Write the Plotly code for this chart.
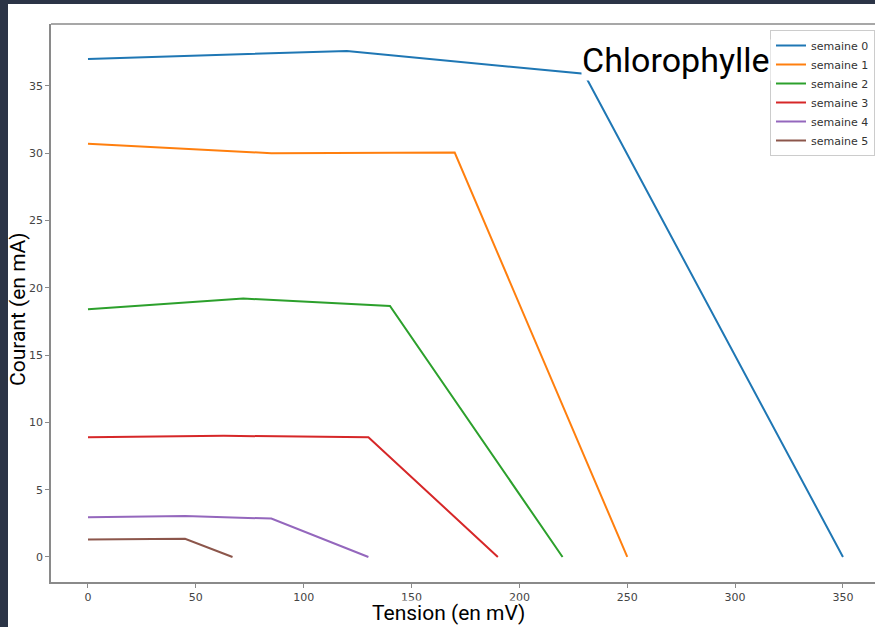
import plotly.graph_objects as go

# Data
series_names = ["semaine 0", "semaine 1", "semaine 2", "semaine 3", "semaine 4", "semaine 5"]
s0_x = [0, 120, 230, 350]
s0_y = [37.0, 37.6, 35.9, 0]
s1_x = [0, 85, 170, 250]
s1_y = [30.7, 30.0, 30.05, 0]
s2_x = [0, 72, 140, 220]
s2_y = [18.4, 19.2, 18.65, 0]
s3_x = [0, 63, 130, 190]
s3_y = [8.9, 9.0, 8.9, 0]
s4_x = [0, 45, 85, 130]
s4_y = [2.95, 3.05, 2.85, 0]
s5_x = [0, 45, 67]
s5_y = [1.3, 1.35, 0]
x_ticks = [0, 50, 100, 150, 200, 250, 300, 350]
y_ticks = [0, 5, 10, 15, 20, 25, 30, 35]

colors = ["#1f77b4", "#ff7f0e", "#2ca02c", "#d62728", "#9467bd", "#8c564b"]
xs = [s0_x, s1_x, s2_x, s3_x, s4_x, s5_x]
ys = [s0_y, s1_y, s2_y, s3_y, s4_y, s5_y]

fig = go.Figure()
for name, x, y, c in zip(series_names, xs, ys, colors):
    fig.add_trace(go.Scatter(x=x, y=y, mode="lines", name=name,
                             line=dict(color=c, width=2)))

W, H = 875, 627
ml, mr, mt, mb = 51, 0, 24, 45
pw, ph = W - ml - mr, H - mt - mb

spine = "#8a8a8a"
dark = "#2b3446"
tickfont = dict(family="DejaVu Sans", size=11, color="#444")

fig.update_layout(
    width=W, height=H,
    margin=dict(l=ml, r=mr, t=mt, b=mb, pad=0, autoexpand=False),
    paper_bgcolor="white",
    plot_bgcolor="white",
    showlegend=True,
    xaxis=dict(range=[-17.15, 364.85], tickvals=x_ticks, ticks="outside",
               ticklen=4, tickcolor=spine, showgrid=False, zeroline=False,
               showline=True, linecolor=spine, linewidth=1.5, tickfont=tickfont,
               automargin=False),
    yaxis=dict(range=[-1.86, 39.6], tickvals=y_ticks, ticks="outside",
               ticklen=4, tickcolor=spine, showgrid=False, zeroline=False,
               showline=True, linecolor=spine, linewidth=1.5, tickfont=tickfont,
               automargin=False),
    legend=dict(x=1.0, xanchor="right", y=(582 - 30) / ph, yanchor="top",
                bgcolor="white", bordercolor="#cccccc", borderwidth=1,
                font=dict(family="DejaVu Sans", size=11, color="#333"),
                tracegroupgap=0, itemwidth=30),
)

# dark frame strips (left and top) of the screenshot
fig.add_shape(type="rect", xref="paper", yref="paper",
              x0=-ml / pw, x1=(8 - ml) / pw, y0=(582 - 640) / ph, y1=(582 + 10) / ph,
              fillcolor=dark, line=dict(width=0), layer="below")
fig.add_shape(type="rect", xref="paper", yref="paper",
              x0=-ml / pw, x1=1.05, y0=(582 - 4) / ph, y1=(582 + 10) / ph,
              fillcolor=dark, line=dict(width=0), layer="below")
# top spine
fig.add_shape(type="line", xref="paper", yref="paper", x0=0, x1=1.05, y0=1, y1=1,
              line=dict(color=spine, width=1.5))

fig.add_annotation(text="Tension (en mV)", xref="paper", yref="paper",
                   x=(448 - ml) / pw, y=(582 - 613) / ph, xanchor="center", yanchor="middle",
                   showarrow=False, bgcolor="white", borderpad=0,
                   font=dict(family="Roboto", size=21, color="black"))
fig.add_annotation(text="Courant (en mA)", xref="paper", yref="paper",
                   x=(18 - ml) / pw, y=(582 - 309) / ph, xanchor="center", yanchor="middle",
                   textangle=-90, showarrow=False,
                   font=dict(family="Roboto", size=21, color="black"))
fig.add_annotation(text="Chlorophylle", xref="paper", yref="paper",
                   x=(581 - ml) / pw, y=(582 - 60) / ph, xanchor="left", yanchor="middle",
                   showarrow=False, bgcolor="white", borderpad=0,
                   font=dict(family="Roboto", size=34, color="black"))

fig.write_html("out.html", config={"displayModeBar": False},
               post_script="document.documentElement.style.overflow='hidden';"
                           "document.body.style.margin='0';document.body.style.overflow='hidden';")
